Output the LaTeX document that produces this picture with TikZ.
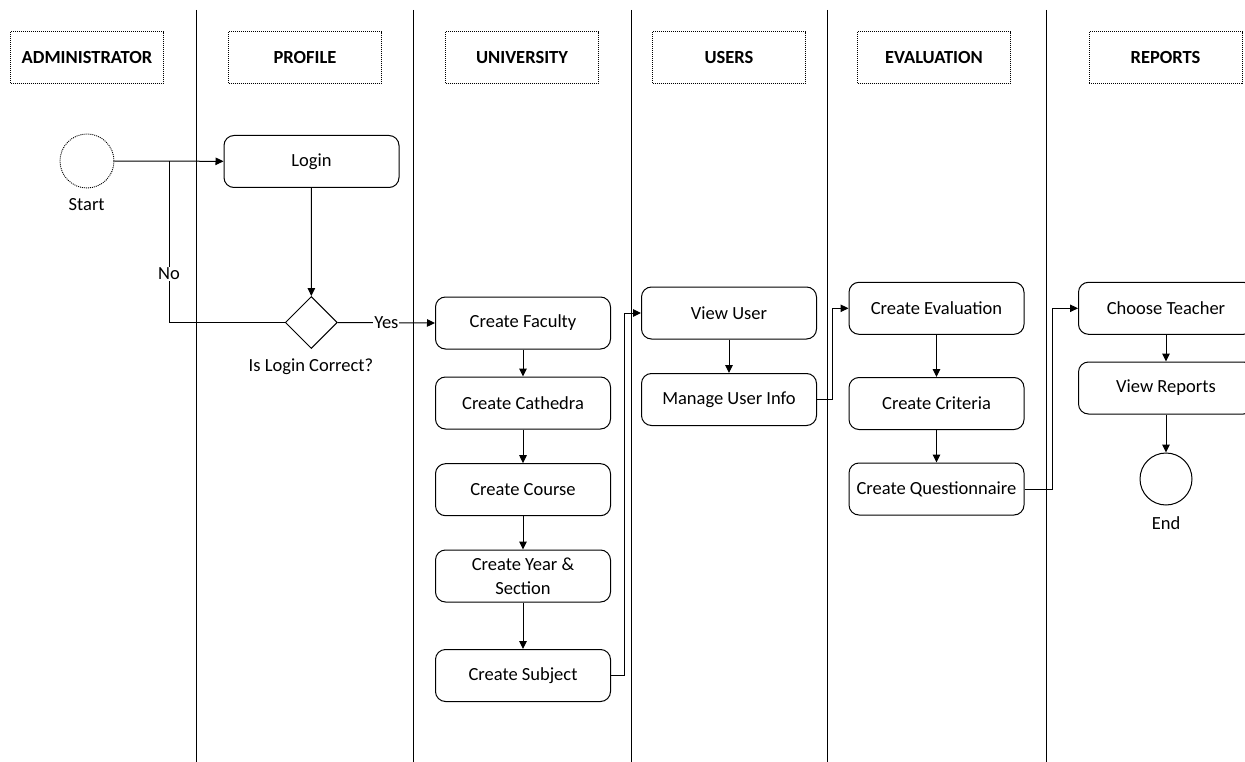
\documentclass[tikz,border=0pt]{standalone}
\usepackage{fontspec}
\setmainfont{Carlito}
\usetikzlibrary{arrows.meta,shapes.geometric,positioning}
\tikzset{
  lane/.style={line width=1.3pt},
  header/.style={draw, line width=0.9pt, dash pattern=on 1pt off 1pt,
    minimum width=153pt, minimum height=51.6pt, inner sep=0pt,
    font=\fontsize{18.5}{22}\selectfont\bfseries},
  act/.style={draw, line width=1pt, rounded corners=10pt,
    minimum width=175pt, minimum height=52pt, inner sep=2pt,
    align=center, font=\fontsize{18.5}{24}\selectfont},
  decision/.style={draw, line width=1pt, diamond, aspect=1,
    minimum size=52pt, inner sep=0pt},
  startnode/.style={draw, line width=0.9pt, circle, dash pattern=on 1pt off 1pt,
    minimum size=54pt, inner sep=0pt},
  endnode/.style={draw, line width=1pt, circle, minimum size=52pt, inner sep=0pt},
  caption/.style={font=\fontsize{18.5}{22}\selectfont, inner sep=0pt},
  flow/.style={line width=1pt, -{Triangle[length=8pt,width=7.5pt]}},
  plain/.style={line width=1pt},
  tag/.style={fill=white, inner sep=1pt, font=\fontsize{18.5}{22}\selectfont}
}
\begin{document}
\begin{tikzpicture}[x=1pt,y=-1pt]
\useasboundingbox (0,0) rectangle (1245,762);
\clip (0,0) rectangle (1245,762);

% swimlane separators
\coordinate (l1t) at (196.5,10);  \coordinate (l1b) at (196.5,762);
\coordinate (l2t) at (413.5,10);  \coordinate (l2b) at (413.5,762);
\coordinate (l3t) at (631.5,10);  \coordinate (l3b) at (631.5,762);
\coordinate (l4t) at (827.5,10);  \coordinate (l4b) at (827.5,762);
\coordinate (l5t) at (1046.5,10); \coordinate (l5b) at (1046.5,762);
\foreach \i in {1,...,5} \draw[lane] (l\i t) -- (l\i b);

% lane headers
\node[header] (hadmin) at (87,57.5)    {ADMINISTRATOR};
\node[header] (hprof)  at (305,57.5)   {PROFILE};
\node[header] (huni)   at (522,57.5)   {UNIVERSITY};
\node[header] (huser)  at (729,57.5)   {USERS};
\node[header] (heval)  at (934,57.5)   {EVALUATION};
\node[header] (hrep)   at (1165.5,57.5){REPORTS};

% administrator / profile
\node[startnode] (start) at (87,161) {};
\node[caption] (startlbl) at (86.7,205) {Start};
\node[act] (login) at (311.5,161.5) {Login};
\node[decision] (dec) at (311.3,322.5) {};
\node[caption] (declbl) at (311,366.7) {Is Login Correct?};
\coordinate (nojoin) at (169,161);

% university
\node[act] (fac)    at (523,323)   {Create Faculty};
\node[act] (cath)   at (523,403)   {Create Cathedra};
\node[act] (course) at (523,489.7) {Create Course};
\node[act] (year)   at (523,576)   {Create Year \&\\Section};
\node[act] (subj)   at (523,675.5) {Create Subject};

% users
\node[act] (vuser)  at (729,313)   {View User};
\node[act] (manage) at (729,399.5) {Manage User Info};

% evaluation
\node[act] (eval)  at (936.5,308.3) {Create Evaluation};
\node[act] (crit)  at (936.5,403.5) {Create Criteria};
\node[act] (quest) at (936.5,489)   {Create Questionnaire};

% reports
\node[act] (choose) at (1166,308.3) {Choose Teacher};
\node[act] (vrep)   at (1166,388)   {View Reports};
\node[endnode] (end) at (1166,479) {};
\node[caption] (endlbl) at (1166,522.7) {End};

% connectors
\draw[flow] (start) -- (login);
\draw[flow] (login) -- (dec);
\draw[plain] (dec.west) -| node[tag, pos=0.65] {No} (nojoin);
\draw[flow] (dec.east) -- node[tag] {Yes} (fac.west);
\draw[flow] (fac) -- (cath);
\draw[flow] (cath) -- (course);
\draw[flow] (course) -- (year);
\draw[flow] (year) -- (subj);
\draw[flow] (subj.east) -- ++(13.5,0) |- (vuser.west);
\draw[flow] (vuser) -- (manage);
\draw[flow] (manage.east) -- ++(15,0) |- (eval.west);
\draw[flow] (eval) -- (crit);
\draw[flow] (crit) -- (quest);
\draw[flow] (quest.east) -- ++(27.5,0) |- (choose.west);
\draw[flow] (choose) -- (vrep);
\draw[flow] (vrep) -- (end);
\end{tikzpicture}
\end{document}
